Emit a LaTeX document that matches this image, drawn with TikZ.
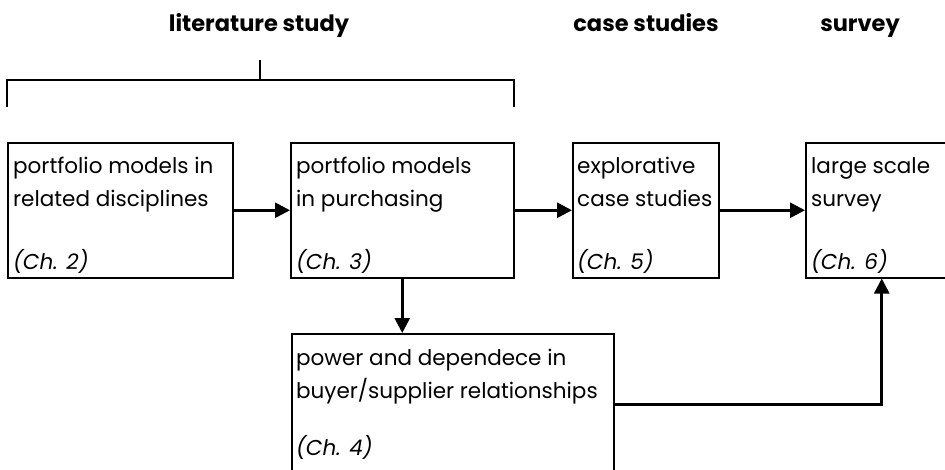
\documentclass[tikz,border=0pt]{standalone}
\usepackage{fontspec}
\setmainfont{Poppins}
\usetikzlibrary{arrows.meta}
\begin{document}
\begin{tikzpicture}[x=1pt,y=-1pt,
  box/.style={draw, line width=1.5pt, anchor=north west, inner sep=0pt},
  txt/.style={anchor=base west, inner sep=0pt, font=\fontsize{21.5}{33}\selectfont},
  chap/.style={anchor=base west, inner sep=0pt, font=\fontsize{21.5}{33}\selectfont\itshape},
  head/.style={anchor=base, inner sep=0pt, font=\fontsize{22.5}{26}\selectfont\bfseries},
  arr/.style={line width=2.6pt, -{Triangle[length=15pt,width=15pt]}}]
\useasboundingbox (0,0) rectangle (945,469);
\fill[white] (0,0) rectangle (945,469);
% headings
\node[head] (h1) at (259,31) {literature study};
\node[head] (h2) at (646,31) {case studies};
\node[head] (h3) at (860,31) {survey};
% bracket
\draw[line width=2.4pt] (7,107) -- (7,80) -- (514,80) -- (514,107);
\draw[line width=1.6pt] (260,80) -- (260,60);
% boxes
\node[box, minimum width=225pt, minimum height=135pt] (b1) at (7,142) {};
\node[box, minimum width=223pt, minimum height=135pt] (b2) at (290,142) {};
\node[box, minimum width=146pt, minimum height=135pt] (b3) at (572,142) {};
\node[box, minimum width=142pt, minimum height=135pt] (b4) at (805,142) {};
\node[box, minimum width=322pt, minimum height=142pt] (b5) at (291,333) {};
% texts
\node[txt] (t1a) at (13,173) {portfolio models in};
\node[txt] (t1b) at (13,206) {related disciplines};
\node[chap] (c1) at (13,269) {(Ch. 2)};
\node[txt] (t2a) at (296,173) {portfolio models};
\node[txt] (t2b) at (296,206) {in purchasing};
\node[chap] (c2) at (296,269) {(Ch. 3)};
\node[txt] (t3a) at (577,173) {explorative};
\node[txt] (t3b) at (577,206) {case studies};
\node[chap] (c3) at (577,269) {(Ch. 5)};
\node[txt] (t4a) at (811,173) {large scale};
\node[txt] (t4b) at (811,206) {survey};
\node[chap] (c4) at (811,269) {(Ch. 6)};
\node[txt] (t5a) at (296,365) {power and dependece in};
\node[txt] (t5b) at (296,398) {buyer/supplier relationships};
\node[chap] (c5) at (296,455) {(Ch. 4)};
% arrows
\draw[arr] (b1.east) -- (b2.west);
\draw[arr] (b2.east) -- (b3.west);
\draw[arr] (b3.east) -- (b4.west);
\draw[arr] (b2.south) -- (b2.south |- b5.north);
\coordinate (k) at ([xshift=5pt]b4.south);
\draw[arr] (b5.east) -| (k);
\end{tikzpicture}
\end{document}
